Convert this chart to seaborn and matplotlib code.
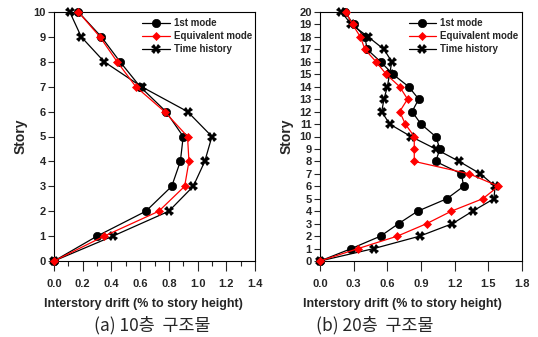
import matplotlib

matplotlib.use("Agg")
import matplotlib.pyplot as plt
import numpy as np
import pandas as pd
import seaborn as sns
from matplotlib.ticker import MultipleLocator

# ── data ──
story_10 = list(range(0, 11))
first_10 = [0.0, 0.30, 0.64, 0.82, 0.88, 0.90, 0.78, 0.60, 0.46, 0.33, 0.17]
equiv_10 = [0.0, 0.35, 0.73, 0.91, 0.94, 0.93, 0.77, 0.57, 0.44, 0.32, 0.17]
time_10 = [0.0, 0.41, 0.80, 0.97, 1.05, 1.10, 0.93, 0.61, 0.35, 0.19, 0.11]

story_20 = list(range(0, 21))
first_20 = [0.0, 0.28, 0.54, 0.70, 0.87, 1.13, 1.28, 1.26, 1.03, 1.07, 1.03,
            0.90, 0.82, 0.88, 0.79, 0.65, 0.54, 0.42, 0.40, 0.30, 0.22]
equiv_20 = [0.0, 0.34, 0.69, 0.95, 1.17, 1.45, 1.59, 1.33, 0.84, 0.84, 0.84,
            0.76, 0.71, 0.78, 0.71, 0.59, 0.50, 0.40, 0.36, 0.29, 0.23]
time_20 = [0.0, 0.48, 0.89, 1.18, 1.36, 1.55, 1.56, 1.43, 1.24, 1.03, 0.81,
           0.62, 0.55, 0.57, 0.60, 0.62, 0.64, 0.57, 0.43, 0.28, 0.19]

series_names = ["1st mode", "Equivalent mode", "Time history"]
captions = ["(a) 10층  구조물", "(b) 20층  구조물"]

sns.set_style("ticks")
plt.rcParams["font.family"] = ["Liberation Sans", "DejaVu Sans"]
plt.rcParams["font.weight"] = "bold"

styles = {
    "1st mode": dict(color="black", marker="o", markersize=6, zorder=3),
    "Equivalent mode": dict(color="red", marker="D", markersize=4, zorder=4),
    "Time history": dict(color="black", marker="X", markersize=7,
                         markeredgewidth=0, zorder=2),
}


def draw_panel(ax, story, values, xmax, xstep, minor, ymax, xlabel_x):
    for name, vals in zip(series_names, values):
        df = pd.DataFrame({"drift": vals, "story": story})
        st = styles[name]
        sns.lineplot(data=df, x="drift", y="story", sort=False, estimator=None,
                     ax=ax, label=name, color=st["color"], marker=st["marker"],
                     markersize=st["markersize"], linewidth=0.9,
                     markeredgecolor=st["color"],
                     markeredgewidth=st.get("markeredgewidth", 0.5),
                     zorder=st["zorder"], clip_on=False)
    ax.set_xlim(0, xmax)
    ax.set_ylim(0, ymax)
    ax.xaxis.set_major_locator(MultipleLocator(xstep))
    if minor:
        ax.xaxis.set_minor_locator(MultipleLocator(minor))
    ax.yaxis.set_major_locator(MultipleLocator(1))
    ax.xaxis.set_major_formatter(matplotlib.ticker.FormatStrFormatter("%.1f"))
    ax.tick_params(axis="x", which="major", direction="out", length=7,
                   width=0.8, labelsize=8, pad=6)
    ax.tick_params(axis="y", which="major", direction="out", length=4,
                   width=0.8, labelsize=8, pad=2)
    ax.tick_params(axis="x", which="minor", direction="out", length=3.5,
                   width=0.8)
    for lab in ax.get_xticklabels() + ax.get_yticklabels():
        lab.set_fontweight("bold")
    for sp in ax.spines.values():
        sp.set_linewidth(0.8)
        sp.set_color("black")
    ax.set_xlabel("Interstory drift (% to story height)", fontsize=9,
                  fontweight="bold")
    ax.xaxis.set_label_coords(xlabel_x, -0.15)
    ax.set_ylabel("Story", fontsize=10, fontweight="bold", labelpad=4)
    ax.legend(loc="upper left", bbox_to_anchor=(0.44, 0.975), frameon=False,
              handlelength=2.8, handletextpad=0.4,
              labelspacing=0.3, borderpad=0, borderaxespad=0,
              prop={"weight": "bold", "size": 7})


fig = plt.figure(figsize=(5.38, 3.37), dpi=100)
ax1 = fig.add_axes([54 / 538, 76 / 337, 201 / 538, 249 / 337])
ax2 = fig.add_axes([320 / 538, 76 / 337, 202 / 538, 249 / 337])

draw_panel(ax1, story_10, [first_10, equiv_10, time_10], 1.4, 0.2, 0.1, 10,
           0.443)
draw_panel(ax2, story_20, [first_20, equiv_20, time_20], 1.8, 0.3, None, 20,
           0.406)

for cx, cap in zip([152, 375], captions):
    fig.text(cx / 538, 12 / 337, cap, ha="center", va="center",
             fontsize=12.5, fontweight="normal",
             family=["Noto Sans CJK KR", "DejaVu Sans"])

fig.savefig("out.png", dpi=100)
plt.close(fig)
